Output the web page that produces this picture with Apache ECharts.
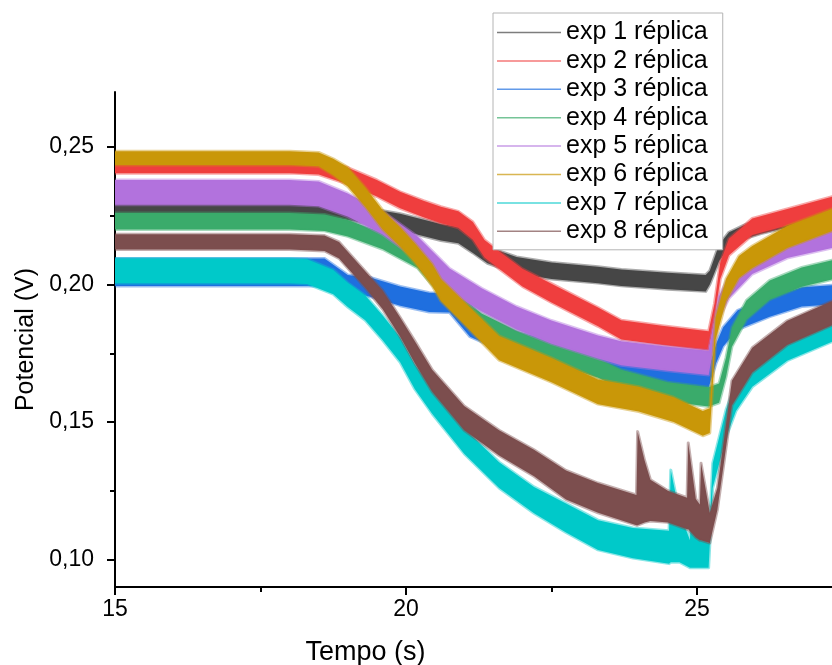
<!DOCTYPE html>
<html>
<head>
<meta charset="utf-8">
<script src="https://cdn.jsdelivr.net/npm/echarts@6/dist/echarts.min.js"></script>
<style>
  html, body { margin: 0; padding: 0; background: #fff; }
  #chart { width: 832px; height: 665px; }
</style>
</head>
<body>
<div id="chart"></div>
<script>
// Potential traces: each point is [time (s), lower edge (V), upper edge (V)] of the noisy band
const expNames = ['exp 1 réplica', 'exp 2 réplica', 'exp 3 réplica', 'exp 4 réplica',
                  'exp 5 réplica', 'exp 6 réplica', 'exp 7 réplica', 'exp 8 réplica'];

const exp1 = [[15, 0.226, 0.231], [16, 0.226, 0.231], [17, 0.226, 0.231], [18, 0.2255, 0.2305],
  [18.6, 0.225, 0.230], [19.0, 0.2235, 0.229], [19.9, 0.2197, 0.2257], [20.6, 0.216, 0.222],
  [20.9, 0.215, 0.221], [21.15, 0.2115, 0.2175], [21.4, 0.2077, 0.2137], [21.9, 0.204, 0.210],
  [22.5, 0.202, 0.208], [23.3, 0.2005, 0.2065], [23.7, 0.1995, 0.2055], [24.5, 0.1983, 0.2043],
  [25.15, 0.1975, 0.2035], [25.22, 0.200, 0.205], [25.38, 0.2085, 0.2145], [25.55, 0.2135, 0.219],
  [25.8, 0.2165, 0.2215], [26.1, 0.2185, 0.224], [26.6, 0.221, 0.226], [27.32, 0.223, 0.228]];

const exp2 = [[15, 0.2405, 0.2465], [16, 0.2405, 0.2465], [17, 0.2405, 0.2465], [18, 0.2405, 0.2465],
  [18.5, 0.240, 0.246], [19.0, 0.2365, 0.2425], [19.5, 0.232, 0.238], [19.9, 0.2277, 0.2337],
  [20.3, 0.2245, 0.2305], [20.6, 0.2223, 0.2283], [20.9, 0.2206, 0.2266], [21.15, 0.2163, 0.2227],
  [21.35, 0.2098, 0.2162], [21.6, 0.2057, 0.2121], [22.0, 0.1993, 0.2057], [22.5, 0.1935, 0.2003],
  [23.3, 0.1848, 0.1916], [23.7, 0.180, 0.187], [24.4, 0.178, 0.185], [25.2, 0.176, 0.183],
  [25.3, 0.187, 0.193], [25.4, 0.202, 0.208], [25.55, 0.2106, 0.2166], [25.95, 0.218, 0.224],
  [26.55, 0.2215, 0.2275], [27.32, 0.2259, 0.2319]];

const exp3 = [[15, 0.1995, 0.2095], [16, 0.1995, 0.2095], [17, 0.1995, 0.2095], [18, 0.1995, 0.2095],
  [18.6, 0.1995, 0.2095], [19.0, 0.1975, 0.2035], [19.4, 0.1955, 0.2025], [19.9, 0.1923, 0.1993],
  [20.4, 0.190, 0.197], [20.75, 0.1898, 0.1968], [21.1, 0.181, 0.188], [21.6, 0.1763, 0.1833],
  [22.5, 0.1734, 0.1804], [23.3, 0.169, 0.176], [23.7, 0.1654, 0.1724], [24.5, 0.1637, 0.1707],
  [25.2, 0.1625, 0.1695], [25.33, 0.1715, 0.1785], [25.45, 0.1775, 0.1845], [25.7, 0.1836, 0.1906],
  [26.25, 0.1883, 0.1953], [26.8, 0.192, 0.199], [27.32, 0.1927, 0.1997]];

const exp4 = [[15, 0.220, 0.226], [16, 0.220, 0.226], [17, 0.220, 0.226], [18, 0.220, 0.226],
  [18.6, 0.2195, 0.2255], [19.0, 0.2175, 0.2235], [19.6, 0.2128, 0.2188], [20.2, 0.206, 0.212],
  [20.7, 0.1938, 0.2002], [21.3, 0.1825, 0.1895], [21.9, 0.1763, 0.1833], [22.5, 0.1716, 0.1786],
  [23.3, 0.1661, 0.1731], [23.7, 0.1620, 0.1690], [24.5, 0.1575, 0.1645], [25.2, 0.1556, 0.1626],
  [25.38, 0.157, 0.164], [25.5, 0.1665, 0.1735], [25.6, 0.1774, 0.1844], [25.85, 0.1872, 0.1942],
  [26.25, 0.1945, 0.2015], [26.8, 0.1992, 0.2062], [27.32, 0.2018, 0.2088]];

const exp5 = [[15, 0.229, 0.238], [16, 0.229, 0.238], [17, 0.229, 0.238], [18, 0.229, 0.238],
  [18.5, 0.2285, 0.2375], [19.0, 0.2247, 0.2331], [19.6, 0.2182, 0.2266], [20.2, 0.2091, 0.2175],
  [20.75, 0.1974, 0.2058], [21.3, 0.1902, 0.1986], [21.9, 0.1836, 0.192], [22.5, 0.1785, 0.1869],
  [23.3, 0.1731, 0.1815], [23.7, 0.1706, 0.1794], [24.5, 0.1686, 0.1774], [25.2, 0.1671, 0.1759],
  [25.38, 0.1878, 0.1958], [25.55, 0.195, 0.203], [25.95, 0.2038, 0.2118], [26.55, 0.2096, 0.2176],
  [27.32, 0.2133, 0.2213]];

const exp6 = [[15, 0.2435, 0.2485], [16, 0.2435, 0.2485], [17, 0.2435, 0.2485], [18, 0.2435, 0.2485],
  [18.5, 0.243, 0.248], [18.75, 0.2397, 0.2457], [19.0, 0.2356, 0.2426], [19.3, 0.2283, 0.2353],
  [19.6, 0.220, 0.227], [19.9, 0.2138, 0.2208], [20.15, 0.208, 0.215], [20.45, 0.1995, 0.2075],
  [20.6, 0.194, 0.202], [21.0, 0.1855, 0.1937], [21.6, 0.1725, 0.1813], [22.5, 0.1645, 0.1733],
  [23.3, 0.1565, 0.1655], [24.0, 0.1538, 0.1628], [24.6, 0.150, 0.159], [25.1, 0.145, 0.154],
  [25.22, 0.146, 0.155], [25.32, 0.180, 0.188], [25.5, 0.194, 0.202], [25.72, 0.2024, 0.2104],
  [25.95, 0.206, 0.214], [26.55, 0.2133, 0.2213], [27.32, 0.2195, 0.2275]];

const exp7 = [[15, 0.2005, 0.2095], [16, 0.2005, 0.2095], [17, 0.2005, 0.2095], [18, 0.2005, 0.2095],
  [18.3, 0.2002, 0.2092], [18.75, 0.1965, 0.2053], [19.0, 0.1918, 0.2006], [19.3, 0.187, 0.196],
  [19.6, 0.1797, 0.1887], [19.9, 0.1717, 0.1807], [20.15, 0.162, 0.171], [20.45, 0.153, 0.1622],
  [21.0, 0.1385, 0.1477], [21.6, 0.126, 0.1354], [22.2, 0.1168, 0.1264], [22.75, 0.1098, 0.1204],
  [23.3, 0.1035, 0.1143], [23.9, 0.1005, 0.1115], [24.52, 0.0985, 0.1105], [24.55, 0.099, 0.1325],
  [24.7, 0.099, 0.117], [24.88, 0.097, 0.107], [24.9, 0.097, 0.1227], [25.05, 0.097, 0.108],
  [25.2, 0.097, 0.106], [25.27, 0.126, 0.135], [25.5, 0.1445, 0.1545], [25.67, 0.154, 0.164],
  [25.95, 0.1628, 0.1728], [26.55, 0.1723, 0.1823], [27.32, 0.1792, 0.1892]];

const exp8 = [[15, 0.2127, 0.2183], [16, 0.2127, 0.2183], [17, 0.2127, 0.2183], [18, 0.2127, 0.2183],
  [18.6, 0.2122, 0.2178], [18.85, 0.2095, 0.2155], [19.3, 0.1988, 0.2048], [19.6, 0.191, 0.1978],
  [19.9, 0.181, 0.188], [20.15, 0.1715, 0.1795], [20.45, 0.161, 0.169], [21.0, 0.147, 0.1558],
  [21.6, 0.1378, 0.147], [22.2, 0.1303, 0.1399], [22.75, 0.1218, 0.1324], [23.3, 0.117, 0.1278],
  [23.96, 0.1125, 0.1235], [23.98, 0.1125, 0.1465], [24.1, 0.1135, 0.136], [24.2, 0.114, 0.129],
  [24.5, 0.1135, 0.125], [24.83, 0.111, 0.1225], [24.85, 0.111, 0.1424], [24.98, 0.108, 0.122],
  [25.05, 0.107, 0.120], [25.07, 0.107, 0.135], [25.22, 0.106, 0.117], [25.35, 0.118, 0.126],
  [25.6, 0.156, 0.165], [25.95, 0.168, 0.177], [26.55, 0.178, 0.1868], [27.32, 0.1852, 0.194]];

// axis ticks
const xTicks = [15, 20, 25];
const xMinorTicks = [17.5, 22.5];
const yTicks = [0.10, 0.15, 0.20, 0.25];
const yMinorTicks = [0.125, 0.175, 0.225];

const runs = [exp1, exp2, exp3, exp4, exp5, exp6, exp7, exp8];
const colors = ['#464646', '#ef3e3e', '#1f6fdf', '#3aab6b', '#b272dd', '#c99708', '#00c9c9', '#7c4e4e'];
const font = "'Liberation Sans', Arial, sans-serif";

// Each run is drawn as one filled band: upper edge left to right, lower edge back.
// A wide translucent outline softens the edges like the signal noise does.
function bandRenderer(color) {
  return function (params, api) {
    if (params.dataIndexInside !== 0) return null;
    const n = params.dataInsideLength;
    const upper = [], lower = [];
    for (let j = 0; j < n; j++) {
      const t = api.value(0, j);
      upper.push(api.coord([t, api.value(2, j)]));
      lower.push(api.coord([t, api.value(1, j)]));
    }
    return {
      type: 'polygon',
      shape: { points: upper.concat(lower.reverse()) },
      style: { fill: color, stroke: color, lineWidth: 3, strokeOpacity: 0.45, lineJoin: 'round' }
    };
  };
}

const series = runs.map((pts, i) => ({
  name: expNames[i],
  type: 'custom',
  coordinateSystem: 'cartesian2d',
  xAxisIndex: 0,
  yAxisIndex: 0,
  data: pts,
  encode: { x: 0, y: [1, 2] },
  clip: true,
  silent: true,
  itemStyle: { color: colors[i] },
  renderItem: bandRenderer(colors[i])
}));

const axisLine = { show: true, lineStyle: { color: '#000', width: 2 } };

const option = {
  animation: false,
  backgroundColor: '#fff',
  grid: { left: 115, right: 0, top: 92, bottom: 78, containLabel: false, outerBoundsMode: 'none' },
  legend: {
    data: expNames,
    orient: 'vertical',
    left: 493,
    top: 13,
    padding: [7, 15, 6, 4],
    icon: 'rect',
    itemWidth: 64,
    itemHeight: 1.5,
    itemGap: 3.4,
    itemStyle: { opacity: 0.7 },
    backgroundColor: '#fff',
    borderColor: '#b4b4b4',
    borderWidth: 1,
    borderRadius: 0,
    textStyle: { fontFamily: font, fontSize: 25, lineHeight: 24, color: '#000' }
  },
  xAxis: [{
    type: 'value',
    min: 15,
    max: 27.32,
    name: 'Tempo (s)',
    nameLocation: 'middle',
    nameGap: 52,
    nameTextStyle: { fontFamily: font, fontSize: 27, color: '#000', padding: [0, 216, 0, 0] },
    axisLine: axisLine,
    axisTick: { show: true, inside: false, length: 8, customValues: xTicks, lineStyle: { color: '#000', width: 2 } },
    axisLabel: { customValues: xTicks, margin: 11, fontFamily: font, fontSize: 23, color: '#000', formatter: v => String(v) },
    splitLine: { show: false }
  }, {
    type: 'value',
    min: 15,
    max: 27.32,
    position: 'bottom',
    axisLine: { show: false },
    axisTick: { show: true, inside: false, length: 5, customValues: xMinorTicks, lineStyle: { color: '#000', width: 2 } },
    axisLabel: { show: false },
    splitLine: { show: false }
  }],
  yAxis: [{
    type: 'value',
    min: 0.09,
    max: 0.27,
    name: 'Potencial (V)',
    nameLocation: 'middle',
    nameGap: 75,
    nameTextStyle: { fontFamily: font, fontSize: 25, color: '#000' },
    axisLine: axisLine,
    axisTick: { show: true, inside: false, length: 8, customValues: yTicks, lineStyle: { color: '#000', width: 2 } },
    axisLabel: { customValues: yTicks, margin: 21, fontFamily: font, fontSize: 23, color: '#000',
                 formatter: v => v.toFixed(2).replace('.', ',') },
    splitLine: { show: false }
  }, {
    type: 'value',
    min: 0.09,
    max: 0.27,
    position: 'left',
    axisLine: { show: false },
    axisTick: { show: true, inside: false, length: 5, customValues: yMinorTicks, lineStyle: { color: '#000', width: 2 } },
    axisLabel: { show: false },
    splitLine: { show: false }
  }],
  series: series
};

const chart = echarts.init(document.getElementById('chart'), null, { renderer: 'canvas' });
chart.setOption(option);
</script>
</body>
</html>
